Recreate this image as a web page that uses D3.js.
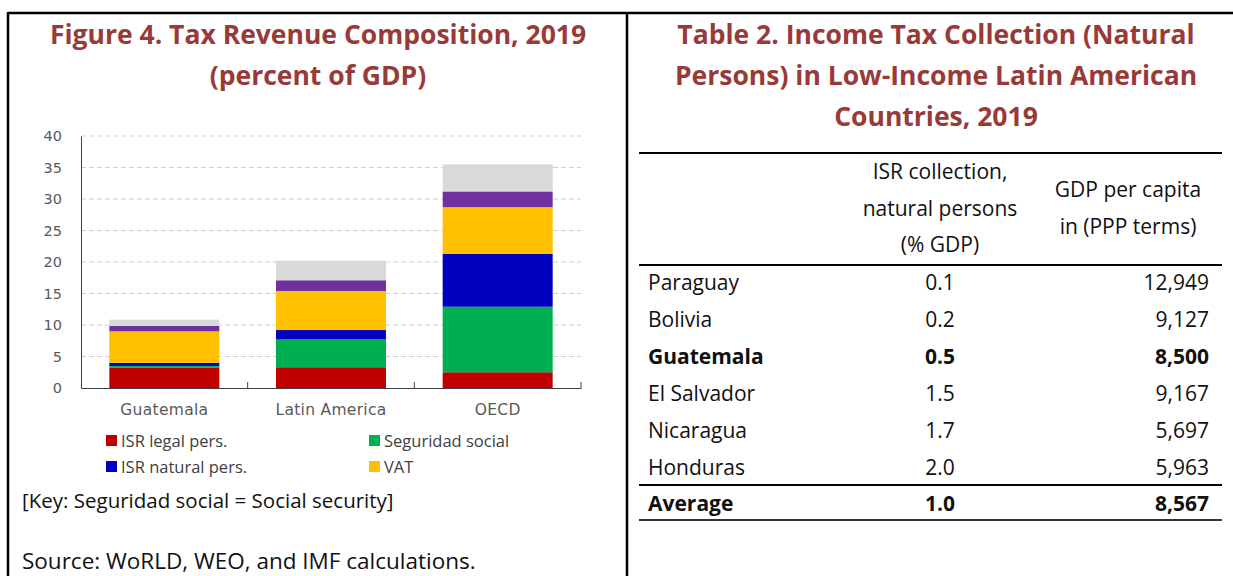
<!DOCTYPE html>
<html lang="en">
<head>
<meta charset="UTF-8">
<title>Tax revenue composition</title>
<script src="https://cdnjs.cloudflare.com/ajax/libs/d3/7.8.5/d3.min.js"></script>
<style>
  * { margin: 0; padding: 0; }
  body { background: #fff; width: 1233px; height: 576px; overflow: hidden; }
  svg { display: block; font-family: "Open Sans", sans-serif; }
  .title { fill: #973a38; font-weight: 700; font-size: 26.5px; text-anchor: middle; }
  .tick text { fill: #595959; }
  .leg { fill: #404040; font-size: 16.5px; }
  .note { fill: #111; }
  .cell { fill: #111; font-size: 21px; }
</style>
</head>
<body>
<svg id="page" width="1233" height="576"></svg>
<script>
// ---- figure 4 data (percent of GDP) ----
var categories = ["Guatemala", "Latin America", "OECD"];
var seriesNames = ["ISR legal pers.", "Seguridad social", "ISR natural pers.", "VAT", "Other taxes 1", "Other taxes 2"];
var seriesColors = ["#c00000", "#00b050", "#0000c0", "#ffc000", "#7030a0", "#d9d9d9"];
var isrLegal   = [3.2, 3.3, 2.5];
var segSocial  = [0.3, 4.4, 10.4];
var isrNatural = [0.5, 1.5, 8.4];
var vat        = [5.0, 6.2, 7.4];
var otherA     = [0.85, 1.7, 2.5];
var otherB     = [1.0, 3.1, 4.3];
var yTicks = [0, 5, 10, 15, 20, 25, 30, 35, 40];
var legendItems = ["ISR legal pers.", "Seguridad social", "ISR natural pers.", "VAT"];

// ---- table 2 data ----
var countries = ["Paraguay", "Bolivia", "Guatemala", "El Salvador", "Nicaragua", "Honduras"];
var isrCollection = ["0.1", "0.2", "0.5", "1.5", "1.7", "2.0"];
var gdpPerCapita = ["12,949", "9,127", "8,500", "9,167", "5,697", "5,963"];
var avgRow = ["Average", "1.0", "8,567"];

var svg = d3.select("#page");

// frame lines
svg.append("line").attr("x1", 8).attr("x2", 1233).attr("y1", 13).attr("y2", 13)
  .attr("stroke", "#000").attr("stroke-width", 2.5);
svg.append("line").attr("x1", 8).attr("x2", 8).attr("y1", 12).attr("y2", 576)
  .attr("stroke", "#000").attr("stroke-width", 2.5);
svg.append("line").attr("x1", 627).attr("x2", 627).attr("y1", 12).attr("y2", 576)
  .attr("stroke", "#000").attr("stroke-width", 2.5);

// ---------- left: figure ----------
svg.append("text").attr("class", "title").attr("x", 318).attr("y", 44).text("Figure 4. Tax Revenue Composition, 2019");
svg.append("text").attr("class", "title").attr("x", 318).attr("y", 85).text("(percent of GDP)");

var x = d3.scaleBand().domain(categories).range([81, 581]).paddingInner(0.34).paddingOuter(0.17);
var y = d3.scaleLinear().domain([0, 40]).range([388, 136]);

var rows = categories.map(function(c, i) {
  return { cat: c, s0: isrLegal[i], s1: segSocial[i], s2: isrNatural[i], s3: vat[i], s4: otherA[i], s5: otherB[i] };
});
var keys = ["s0", "s1", "s2", "s3", "s4", "s5"];
var stacked = d3.stack().keys(keys)(rows);

// dashed grid
svg.append("g").selectAll("line").data(yTicks.slice(1)).join("line")
  .attr("x1", 81).attr("x2", 581)
  .attr("y1", function(d) { return y(d); }).attr("y2", function(d) { return y(d); })
  .attr("stroke", "#cfcfcf").attr("stroke-dasharray", "5,3");

// bars
svg.append("g").selectAll("g").data(stacked).join("g")
  .attr("fill", function(d, i) { return seriesColors[i]; })
  .selectAll("rect").data(function(d) { return d; }).join("rect")
  .attr("x", function(d) { return x(d.data.cat); })
  .attr("width", x.bandwidth())
  .attr("y", function(d) { return y(d[1]); })
  .attr("height", function(d) { return y(d[0]) - y(d[1]); });

// y axis
var yAxis = svg.append("g").attr("transform", "translate(81,0)")
  .call(d3.axisLeft(y).tickValues(yTicks).tickSize(0).tickPadding(19));
yAxis.select(".domain").attr("stroke", "#404040");
yAxis.selectAll(".tick text").attr("font-family", "DejaVu Sans").attr("font-size", 14.5);

// x axis line with boundary ticks
var xAxis = svg.append("g").attr("transform", "translate(0,388)")
  .call(d3.axisBottom(x).tickSize(0).tickPadding(16));
xAxis.select(".domain").attr("stroke", "#404040");
xAxis.selectAll(".tick text").attr("font-family", "DejaVu Sans").attr("font-size", 15.5)
  .attr("letter-spacing", "0.3px");
var bounds = categories.map(function(c) { return x(c) + x.bandwidth() + x.step() * 0.17; });
svg.append("g").selectAll("line").data(bounds).join("line")
  .attr("x1", function(d) { return d; }).attr("x2", function(d) { return d; })
  .attr("y1", 388).attr("y2", 382).attr("stroke", "#404040");

// legend
var leg = svg.append("g").selectAll("g").data(legendItems).join("g")
  .attr("transform", function(d, i) {
    return "translate(" + (i % 2 === 0 ? 106 : 369) + "," + (i < 2 ? 441 : 467) + ")";
  });
leg.append("rect").attr("x", 0).attr("y", -6).attr("width", 11).attr("height", 11)
  .attr("fill", function(d) { return seriesColors[seriesNames.indexOf(d)]; });
leg.append("text").attr("class", "leg").attr("x", 15).attr("y", 0).attr("dy", "0.35em").text(function(d) { return d; });

svg.append("text").attr("class", "note").attr("x", 22).attr("y", 508).attr("font-size", 20.5)
  .text("[Key: Seguridad social = Social security]");
svg.append("text").attr("class", "note").attr("x", 22).attr("y", 569).attr("font-size", 22.5)
  .text("Source: WoRLD, WEO, and IMF calculations.");

// ---------- right: table ----------
["Table 2. Income Tax Collection (Natural", "Persons) in Low-Income Latin American", "Countries, 2019"]
  .forEach(function(t, i) {
    svg.append("text").attr("class", "title").attr("x", 936).attr("y", 44 + i * 41).text(t);
  });

svg.append("line").attr("x1", 639).attr("x2", 1222).attr("y1", 153).attr("y2", 153).attr("stroke", "#000").attr("stroke-width", 2);
svg.append("line").attr("x1", 639).attr("x2", 1222).attr("y1", 265).attr("y2", 265).attr("stroke", "#000").attr("stroke-width", 2);
svg.append("line").attr("x1", 639).attr("x2", 1222).attr("y1", 485).attr("y2", 485).attr("stroke", "#000").attr("stroke-width", 2);
svg.append("line").attr("x1", 639).attr("x2", 1222).attr("y1", 520).attr("y2", 520).attr("stroke", "#333").attr("stroke-width", 2);

["ISR collection,", "natural persons", "(% GDP)"].forEach(function(t, i) {
  svg.append("text").attr("class", "cell").attr("x", 940).attr("y", 172 + i * 36.5).attr("dy", "0.35em")
    .attr("text-anchor", "middle").text(t);
});
["GDP per capita", "in (PPP terms)"].forEach(function(t, i) {
  svg.append("text").attr("class", "cell").attr("x", 1128).attr("y", 190 + i * 37).attr("dy", "0.35em")
    .attr("text-anchor", "middle").text(t);
});

var rowY = d3.scalePoint().domain(countries.concat([avgRow[0]])).range([283, 504]);
var tableRows = countries.map(function(c, i) { return [c, isrCollection[i], gdpPerCapita[i]]; }).concat([avgRow]);
var tr = svg.append("g").selectAll("g").data(tableRows).join("g")
  .attr("transform", function(d) { return "translate(0," + rowY(d[0]) + ")"; })
  .attr("font-weight", function(d) { return (d[0] === "Guatemala" || d[0] === "Average") ? 700 : 400; });
tr.append("text").attr("class", "cell").attr("x", 648).attr("dy", "0.35em").text(function(d) { return d[0]; });
tr.append("text").attr("class", "cell").attr("x", 940).attr("dy", "0.35em").attr("text-anchor", "middle").text(function(d) { return d[1]; });
tr.append("text").attr("class", "cell").attr("x", 1209).attr("dy", "0.35em").attr("text-anchor", "end").text(function(d) { return d[2]; });
</script>
</body>
</html>
